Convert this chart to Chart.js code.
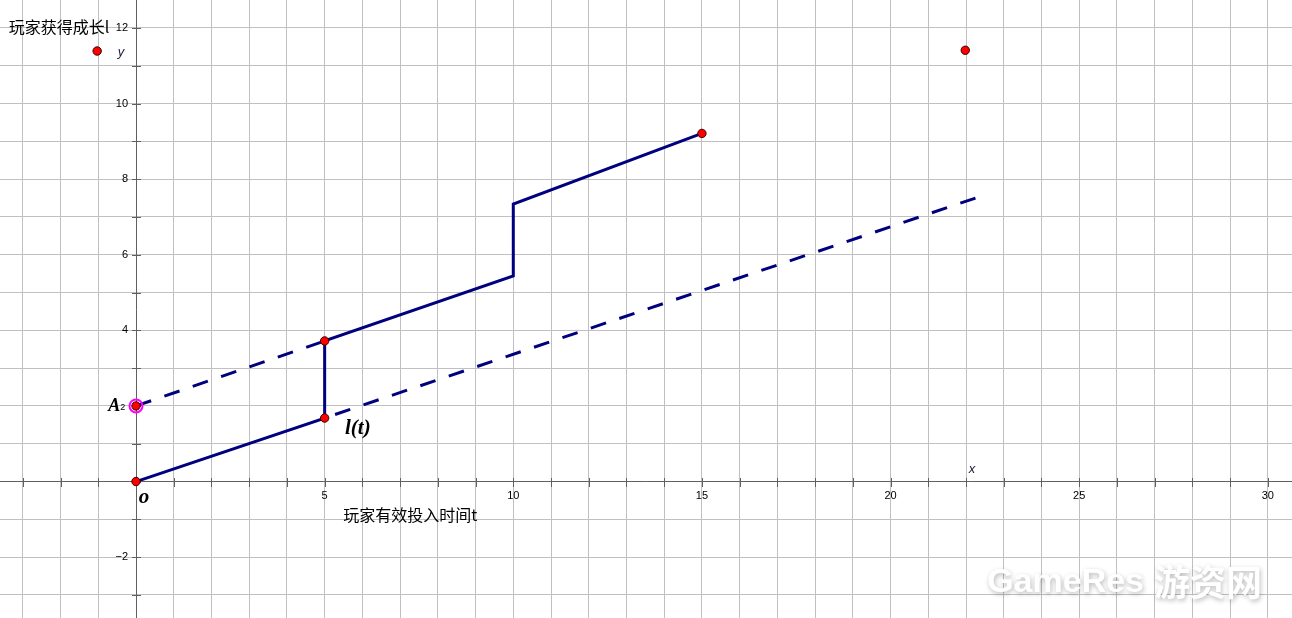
<!DOCTYPE html>
<html>
<head>
<meta charset="utf-8">
<script src="https://cdn.jsdelivr.net/npm/chart.js@4.4.1/dist/chart.umd.min.js"></script>
<style>
html,body{margin:0;padding:0;background:#fff;overflow:hidden}
#wrap{width:1292px;height:618px;position:relative}
</style>
</head>
<body>
<div id="wrap"><canvas id="c" width="1292" height="618"></canvas></div>
<script>
// ---- data ----
const solidLineX = [0, 5, 5, 10, 10, 15];
const solidLineY = [0, 1.68, 3.72, 5.44, 7.34, 9.21];
const dashedUpperX = [0, 5];
const dashedUpperY = [2, 3.72];
const dashedLowerX = [5, 22.25];
const dashedLowerY = [1.68, 7.5];
const pointX = [0, 0, 5, 5, 15, -1.03, 21.98];
const pointY = [0, 2, 1.68, 3.72, 9.21, 11.39, 11.41];
const highlightX = [0];
const highlightY = [2];
const xTickLabels = [5, 10, 15, 20, 25, 30];
const yTickLabels = [-2, 4, 6, 8, 10, 12];
const xRange = [-3.605, 30.64];
const yRange = [-3.61, 12.74];

const yAxisTitle = '玩家获得成长l';
const xAxisTitle = '玩家有效投入时间t';
const watermarkLatin = 'GameRes';
const watermarkCJK = '游资网';

const toPts = (xs, ys) => xs.map((v, i) => ({x: v, y: ys[i]}));

// text annotations, placed in data coordinates
const notes = [
  {text: yAxisTitle, x: -3.37, y: 12.02, font: '16px "Noto Sans CJK SC"', align: 'left', base: 'middle', color: '#000'},
  {text: 'y', x: -0.40, y: 11.36, font: 'italic 13px "Liberation Sans"', align: 'center', base: 'middle', color: '#1a1a3a'},
  {text: 'x', x: 22.16, y: 0.33, font: 'italic 13px "Liberation Sans"', align: 'center', base: 'middle', color: '#1a1a3a'},
  {text: 'o', x: 0.21, y: -0.56, font: 'bold italic 21px "Liberation Serif"', align: 'center', base: 'alphabetic', color: '#000'},
  {text: 'A', x: -0.42, y: 1.865, font: 'bold italic 18px "Liberation Serif"', align: 'right', base: 'alphabetic', color: '#000'},
  {text: '2', x: -0.42, y: 1.89, font: '9px "Liberation Sans"', align: 'left', base: 'alphabetic', color: '#000'},
  {text: 'l(t)', x: 5.54, y: 1.26, font: 'bold italic 21px "Liberation Serif"', align: 'left', base: 'alphabetic', color: '#000'},
  {text: xAxisTitle, x: 5.49, y: -0.89, font: '16px "Noto Sans CJK SC"', align: 'left', base: 'middle', color: '#000'}
];

const axisCrossTicks = {
  id: 'axisCrossTicks',
  beforeDraw(chart) {
    // keep a gap between the y axis line and its tick labels
    const y = chart.scales.y;
    if (y && typeof y.getLabelItems === 'function') {
      const items = y.getLabelItems(chart.chartArea);
      if (items && !items._shifted) {
        items.forEach(it => {
          if (it.options && it.options.translation) it.options.translation[0] -= 8;
        });
        items._shifted = true;
      }
    }
  },
  beforeDatasetsDraw(chart) {
    const {ctx, scales: {x, y}} = chart;
    const x0 = Math.round(x.getPixelForValue(0)) + 0.5;
    const y0 = Math.round(y.getPixelForValue(0)) + 0.5;
    ctx.save();
    ctx.strokeStyle = '#606060';
    ctx.lineWidth = 1;
    ctx.beginPath();
    x.ticks.forEach(t => {
      const px = Math.round(x.getPixelForValue(t.value)) + 0.5;
      ctx.moveTo(px, y0 - 4.5); ctx.lineTo(px, y0 + 4.5);
    });
    y.ticks.forEach(t => {
      const py = Math.round(y.getPixelForValue(t.value)) + 0.5;
      ctx.moveTo(x0 - 4.5, py); ctx.lineTo(x0 + 4.5, py);
    });
    ctx.stroke();
    ctx.restore();
  }
};

const textNotes = {
  id: 'textNotes',
  afterDatasetsDraw(chart) {
    const {ctx, scales: {x, y}} = chart;
    ctx.save();
    notes.forEach(n => {
      ctx.font = n.font;
      ctx.fillStyle = n.color;
      ctx.textAlign = n.align;
      ctx.textBaseline = n.base;
      ctx.fillText(n.text, x.getPixelForValue(n.x), y.getPixelForValue(n.y));
    });
    ctx.restore();
  },
  afterDraw(chart) {
    const {ctx, scales: {x, y}} = chart;
    ctx.save();
    ctx.shadowColor = 'rgba(0,0,0,0.28)';
    ctx.shadowBlur = 5;
    ctx.shadowOffsetX = 1;
    ctx.shadowOffsetY = 2;
    ctx.fillStyle = '#ffffff';
    ctx.textBaseline = 'middle';
    ctx.textAlign = 'left';
    const wx = x.getPixelForValue(22.56), wy = y.getPixelForValue(-2.67);
    ctx.font = 'bold 34px "Liberation Sans"';
    ctx.fillText(watermarkLatin, wx, wy);
    const w1 = ctx.measureText(watermarkLatin).width;
    ctx.font = 'bold 36px "Noto Sans CJK SC"';
    ctx.fillText(watermarkCJK, wx + w1 + 10, wy);
    ctx.restore();
  }
};

const noPad = scale => {
  scale.paddingLeft = 0; scale.paddingRight = 0;
  scale.paddingTop = 0; scale.paddingBottom = 0;
};

const fmt = v => String(v).replace('-', '\u2212');
const tickFont = {family: '"Liberation Sans", Arial, sans-serif', size: 11};

new Chart(document.getElementById('c'), {
  type: 'scatter',
  data: {
    datasets: [
      {
        data: toPts(pointX, pointY),
        showLine: false,
        pointRadius: 4.2,
        pointHoverRadius: 4.2,
        pointBackgroundColor: '#ff0000',
        pointBorderColor: '#3a0000',
        pointBorderWidth: 1
      },
      {
        data: toPts(highlightX, highlightY),
        showLine: false,
        pointRadius: 6.5,
        pointBackgroundColor: 'rgba(0,0,0,0)',
        pointBorderColor: '#ff00ff',
        pointBorderWidth: 2
      },
      {
        data: toPts(solidLineX, solidLineY),
        showLine: true,
        borderColor: '#00007f',
        borderWidth: 3,
        pointRadius: 0,
        tension: 0,
        fill: false
      },
      {
        data: toPts(dashedUpperX, dashedUpperY),
        showLine: true,
        borderColor: '#00007f',
        borderWidth: 3,
        borderDash: [16, 14],
        pointRadius: 0,
        fill: false
      },
      {
        data: toPts(dashedLowerX, dashedLowerY),
        showLine: true,
        borderColor: '#00007f',
        borderWidth: 3,
        borderDash: [16, 14],
        borderDashOffset: 19,
        pointRadius: 0,
        fill: false
      }
    ]
  },
  options: {
    responsive: false,
    animation: false,
    devicePixelRatio: 1,
    layout: {padding: 0, autoPadding: false},
    plugins: {legend: {display: false}, tooltip: {enabled: false}},
    events: [],
    scales: {
      x: {
        type: 'linear',
        min: xRange[0],
        max: xRange[1],
        position: {y: 0},
        afterFit: noPad,
        grid: {color: '#c0c0c0', lineWidth: 1, drawTicks: false},
        border: {color: '#606060', width: 1},
        ticks: {
          stepSize: 1,
          includeBounds: false,
          autoSkip: false,
          maxRotation: 0,
          padding: 8,
          color: '#000',
          font: tickFont,
          callback: v => xTickLabels.includes(v) ? fmt(v) : ''
        }
      },
      y: {
        type: 'linear',
        min: yRange[0],
        max: yRange[1],
        position: {x: 0},
        afterFit: noPad,
        grid: {color: '#c0c0c0', lineWidth: 1, drawTicks: false},
        border: {color: '#606060', width: 1},
        ticks: {
          stepSize: 1,
          includeBounds: false,
          autoSkip: false,
          padding: 8,
          color: '#000',
          font: tickFont,
          callback: v => yTickLabels.includes(v) ? fmt(v) : ''
        }
      }
    }
  },
  plugins: [axisCrossTicks, textNotes]
});
</script>
</body>
</html>
